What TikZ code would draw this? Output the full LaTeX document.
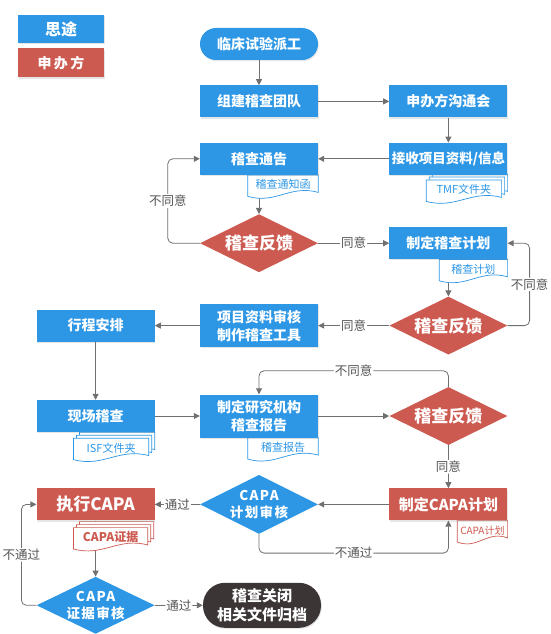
\documentclass[tikz,border=0pt]{standalone}
\usepackage{fontspec}
\setmainfont{Noto Sans CJK SC}
\usetikzlibrary{positioning,shapes.geometric,arrows.meta,calc,shadows}

\definecolor{stblue}{HTML}{2D97E6}
\definecolor{sred}{HTML}{CD5A50}
\definecolor{darkend}{HTML}{3B3536}
\definecolor{linegray}{HTML}{707070}
\definecolor{labelgray}{HTML}{555555}

\pgfdeclarelayer{background}
\pgfsetlayers{background,main}

% wavy document outline: node, colour, x offset, y offset
\newcommand{\docpath}[4]{%
  \draw[#2, fill=white, line width=0.7pt]
    ([xshift=#3,yshift=#4]#1.north west) -- ([xshift=#3,yshift=#4]#1.north east)
    -- ([xshift=#3,yshift=#4+2pt]#1.south east)
    .. controls ($(#1.south east)!0.4!(#1.south west)+(#3,#4+10pt)$)
            and ($(#1.south west)!0.4!(#1.south east)+(#3,#4-10pt)$)
    .. ([xshift=#3,yshift=#4-2pt]#1.south west) -- cycle;}
\newcommand{\singledoc}[2]{\docpath{#1}{#2}{0pt}{0pt}}
\newcommand{\stackdoc}[2]{\docpath{#1}{#2}{6pt}{6pt}\docpath{#1}{#2}{3pt}{3pt}\docpath{#1}{#2}{0pt}{0pt}}

\tikzset{
  box/.style={rectangle, fill=stblue, text=white, font=\bfseries\fontsize{14}{18}\selectfont,
              minimum width=118pt, minimum height=32pt, inner sep=1pt, align=center,
              drop shadow={opacity=0.2, shadow xshift=0.8pt, shadow yshift=-1.2pt}},
  redbox/.style={box, fill=sred},
  endcap/.style={box, rounded corners=16pt},
  fb/.style={diamond, aspect=2, fill=sred, text=white, font=\bfseries\fontsize{17}{20}\selectfont,
             minimum width=118pt, minimum height=58pt, inner sep=0pt},
  chk/.style={diamond, aspect=2, fill=stblue, minimum width=118pt, minimum height=59pt, inner sep=0pt},
  chklbl/.style={text=white, font=\bfseries\fontsize{13.5}{17}\selectfont\addfontfeature{LetterSpace=10}, align=center},
  doc/.style={text=stblue, font=\fontsize{11}{13}\selectfont, minimum height=19pt, inner sep=1pt},
  line/.style={draw=linegray, line width=0.8pt, -{Triangle[length=6pt,width=6pt]}, rounded corners=5pt},
  lbl/.style={fill=white, text=labelgray, font=\fontsize{12.5}{14}\selectfont, inner sep=1pt},
}

\begin{document}
\begin{tikzpicture}
  \useasboundingbox (0,0) rectangle (550pt,-634pt);
  % legend
  \node[box, minimum width=86pt, minimum height=28pt, font=\bfseries\fontsize{16}{18}\selectfont] (keysitu) at (61pt,-29pt) {思途};
  \node[redbox, minimum width=86pt, minimum height=29pt, below=5pt of keysitu] (keysponsor) {申\,办\,方};

  % flow
  \node[endcap] (start) at (259pt,-44pt) {临床试验派工};
  \node[box, below=25pt of start] (team) {组建稽查团队};
  \node[box, right=71pt of team] (meet) {申办方沟通会};
  \node[box, below=25pt of meet, font=\bfseries\fontsize{13.5}{18}\selectfont] (recv) {接收项目资料/信息};
  \node[box, left=71pt of recv] (notice) {稽查通告};
  \node[fb, below=39pt of notice] (fb1) {稽查反馈};
  \node[box, right=71pt of fb1] (plan) {制定稽查计划};
  \node[fb, below=37pt of plan] (fb2) {稽查反馈};
  \node[box, minimum height=43pt, left=71pt of fb2] (review) {项目资料审核\\制作稽查工具};
  \node[box, left=45pt of review] (sched) {行程安排};
  \node[box, below=58pt of sched] (visit) {现场稽查};
  \node[box, minimum height=43pt, right=45pt of visit] (report) {制定研究机构\\稽查报告};
  \node[fb, right=71pt of report] (fb3) {稽查反馈};
  \node[redbox, below=43pt of fb3, font=\bfseries\fontsize{15}{18}\selectfont] (capaplan) {制定CAPA计划};
  \node[chk, left=71pt of capaplan, label={[chklbl]center:{CAPA\\计划审核}}] (capachk) {};
  \node[redbox, left=45pt of capachk, font=\bfseries\fontsize{17}{20}\selectfont] (docapa) {执行CAPA};
  \node[chk, minimum height=57pt, below=56pt of docapa, label={[chklbl]center:{CAPA\\证据审核}}] (evchk) {};
  \node[endcap, fill=darkend, minimum height=45pt, rounded corners=22pt, right=48pt of evchk,
        font=\bfseries\fontsize{15}{19}\selectfont] (close) {稽查关闭\\相关文件归档};

  % documents
  \node[doc, minimum width=70pt, anchor=north east] (notedoc) at (notice.south east) {稽查通知函};
  \node[doc, minimum width=75pt, anchor=north east] (tmf) at ([xshift=-6pt,yshift=-5pt]recv.south east) {TMF文件夹};
  \node[doc, minimum width=68pt, anchor=north east] (plandoc) at (plan.south east) {稽查计划};
  \node[doc, minimum width=75pt, anchor=north east] (isf) at ([xshift=-6pt,yshift=-6pt]visit.south east) {ISF文件夹};
  \node[doc, minimum width=70pt, anchor=north east] (reportdoc) at (report.south east) {稽查报告};
  \node[doc, text=sred, minimum width=50pt, font=\fontsize{10}{12}\selectfont, anchor=north east] (capadoc) at (capaplan.south east) {CAPA计划};
  \node[doc, text=sred, minimum width=74pt, font=\bfseries\fontsize{12}{14}\selectfont, anchor=north east] (evidence) at ([xshift=-7pt,yshift=-7pt]docapa.south east) {CAPA证据};

  \begin{pgfonlayer}{background}
    \draw[line] (notice) -- (fb1);
    \draw[line] (plan) -- (fb2);
    \draw[line] (docapa) -- (evchk);
    \singledoc{notedoc}{stblue}
    \stackdoc{tmf}{stblue}
    \singledoc{plandoc}{stblue}
    \stackdoc{isf}{stblue}
    \singledoc{reportdoc}{stblue}
    \singledoc{capadoc}{sred}
    \stackdoc{evidence}{sred}
  \end{pgfonlayer}

  % connectors
  \draw[line] (start) -- (team);
  \draw[line] (team) -- (meet);
  \draw[line] (meet) -- (recv);
  \draw[line] (recv) -- (notice);
  \draw[line] (fb1) -- node[lbl] {同意} (plan);
  \draw[line] (fb1.west) -- ++(-32pt,0) |- node[lbl, pos=0.25] {不同意} (notice.west);
  \draw[line] (fb2) -- node[lbl] {同意} (review);
  \draw[line] (fb2.east) -- ++(22pt,0) |- node[lbl, pos=0.25] {不同意} (plan.east);
  \draw[line] (review) -- (sched);
  \draw[line] (sched) -- (visit);
  \draw[line] (visit) -- (report);
  \draw[line] (report) -- (fb3);
  \draw[line] (fb3.north) -- ++(0,16pt) -| node[lbl, pos=0.25] {不同意} (report.north);
  \draw[line] (fb3) -- node[lbl] {同意} (capaplan);
  \draw[line] (capaplan) -- (capachk);
  \draw[line] (capachk.south) -- ++(0,-19pt) -| node[lbl, pos=0.25] {不通过} (capaplan.south);
  \draw[line] (capachk) -- node[lbl] {通过} (docapa);
  \draw[line] (evchk.west) -- ++(-15pt,0) |- node[lbl, pos=0.25] {不通过} (docapa.west);
  \draw[line] (evchk) -- node[lbl] {通过} (close);
\end{tikzpicture}
\end{document}
